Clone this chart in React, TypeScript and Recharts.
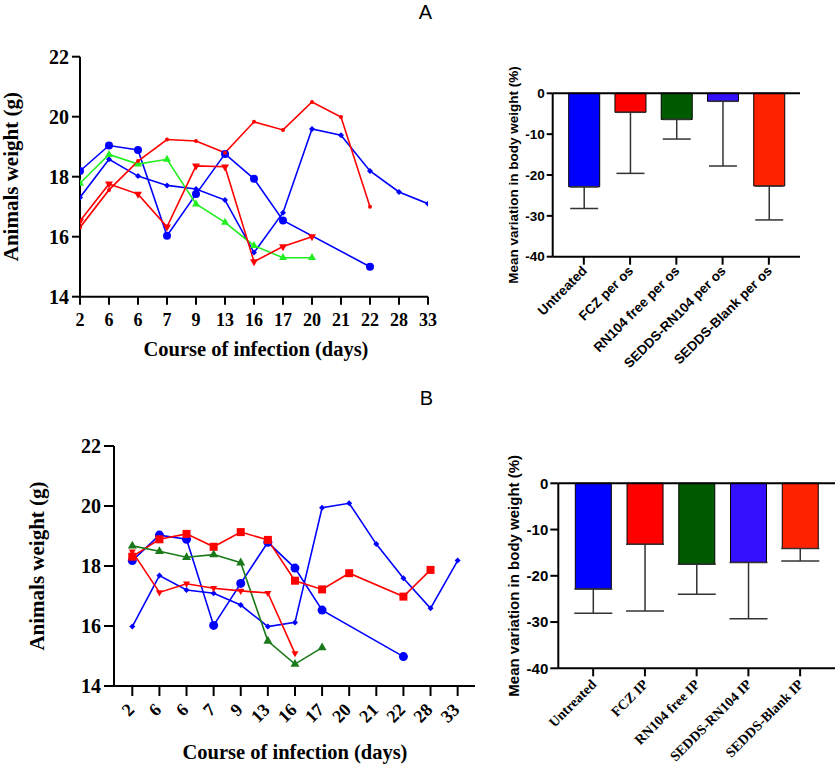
import React from 'react';
import { LineChart, Line, XAxis, YAxis, BarChart, Bar, Cell, ErrorBar, ReferenceLine } from 'recharts';

const SERIF = '"Liberation Serif", "Times New Roman", serif';
const SANS = '"Liberation Sans", Arial, sans-serif';

// ---- Line charts: x categories (days) ----
const days = ['2', '6', '6', '7', '9', '13', '16', '17', '20', '21', '22', '28', '33'];
const dayIdx = days.map((_, i) => i);

// Panel A (per os) weights
const aBlueCircle = [18.19, 19.04, 18.89, 16.03, 17.42, 18.76, 17.93, 16.54, null, null, 15.0, null, null];
const aBlueDiamond = [17.31, 18.58, 18.02, 17.71, 17.59, 17.22, 15.47, 16.8, 19.59, 19.38, 18.19, 17.49, 17.1];
const aGreen = [17.78, 18.74, 18.42, 18.58, 17.09, 16.48, 15.7, 15.3, 15.3, null, null, null, null];
const aRedDot = [16.31, 17.56, 18.52, 19.24, 19.19, 18.8, 19.83, 19.56, 20.49, 19.99, 17.0, null, null];
const aRedTri = [16.52, 17.76, 17.42, 16.33, 18.36, 18.33, 15.17, 15.67, 16.0, null, null, null, null];

// Panel B (IP) weights
const bBlueCircle = [18.18, 19.03, 18.89, 16.02, 17.42, 18.79, 17.93, 16.53, null, null, 14.98, null, null];
const bBlueDiamond = [15.98, 17.68, 17.2, 17.09, 16.7, 15.98, 16.12, 19.94, 20.09, 18.73, 17.59, 16.59, 18.18];
const bRedSquare = [18.31, 18.89, 19.07, 18.64, 19.13, 18.87, 17.51, 17.22, 17.76, null, 16.98, 17.87, null];
const bGreen = [18.67, 18.49, 18.29, 18.38, 18.11, 15.5, 14.73, 15.28, null, null, null, null, null];
const bRedTri = [18.48, 17.12, 17.41, 17.26, 17.17, 17.1, 15.09, null, null, null, null, null, null];

const weightTicks = [14, 16, 18, 20, 22];

// ---- Bar charts ----
const barCatsA = ['Untreated', 'FCZ per os', 'RN104 free per os', 'SEDDS-RN104 per os', 'SEDDS-Blank per os'];
const barMeanA = [-22.9, -4.65, -6.4, -1.96, -22.7];
const barLowA = [-28.2, -19.6, -11.2, -17.8, -31.0];

const barCatsB = ['Untreated', 'FCZ IP', 'RN104 free IP', 'SEDDS-RN104 IP', 'SEDDS-Blank IP'];
const barMeanB = [-22.86, -13.2, -17.5, -17.1, -14.1];
const barLowB = [-28.1, -27.6, -24.0, -29.3, -16.8];

const barColors = ['#0000FF', '#FF0000', '#005A00', '#3311FF', '#FF2200'];
const pctTicks = [-40, -30, -20, -10, 0];

type SeriesDef = { key: string; values: (number | null)[]; color: string; shape: string; size: number };

const seriesA: SeriesDef[] = [
  { key: 'aBlueCircle', values: aBlueCircle, color: '#0000FF', shape: 'circle', size: 4 },
  { key: 'aBlueDiamond', values: aBlueDiamond, color: '#0000FF', shape: 'diamond', size: 3 },
  { key: 'aGreen', values: aGreen, color: '#22EE22', shape: 'tri', size: 4 },
  { key: 'aRedDot', values: aRedDot, color: '#FF0000', shape: 'circle', size: 2 },
  { key: 'aRedTri', values: aRedTri, color: '#FF0000', shape: 'triDown', size: 4 },
];
const seriesB: SeriesDef[] = [
  { key: 'bBlueCircle', values: bBlueCircle, color: '#0000FF', shape: 'circle', size: 4.5 },
  { key: 'bBlueDiamond', values: bBlueDiamond, color: '#0000FF', shape: 'diamond', size: 3 },
  { key: 'bRedSquare', values: bRedSquare, color: '#FF0000', shape: 'square', size: 4 },
  { key: 'bGreen', values: bGreen, color: '#1A7A1A', shape: 'tri', size: 4.5 },
  { key: 'bRedTri', values: bRedTri, color: '#FF0000', shape: 'triDown', size: 3.5 },
];

function buildRows(series: SeriesDef[]) {
  return dayIdx.map((i) => {
    const row: any = { i };
    series.forEach((s) => { row[s.key] = s.values[i]; });
    return row;
  });
}
const lineDataA = buildRows(seriesA);
const lineDataB = buildRows(seriesB);

const barDataA = barCatsA.map((name, k) => ({ name, v: barMeanA[k], err: [barMeanA[k] - barLowA[k], 0] }));
const barDataB = barCatsB.map((name, k) => ({ name, v: barMeanB[k], err: [barMeanB[k] - barLowB[k], 0] }));

function makeDot(shape: string, s: number, color: string) {
  return (props: any) => {
    const { cx, cy, index, value } = props;
    const k = `dot-${index}`;
    if (cx == null || cy == null || value == null || Number.isNaN(cy)) return <g key={k} />;
    if (shape === 'circle') return <circle key={k} cx={cx} cy={cy} r={s} fill={color} />;
    if (shape === 'square') return <rect key={k} x={cx - s} y={cy - s} width={2 * s} height={2 * s} fill={color} />;
    if (shape === 'tri')
      return <polygon key={k} points={`${cx},${cy - s * 1.15} ${cx - s},${cy + s * 0.6} ${cx + s},${cy + s * 0.6}`} fill={color} />;
    if (shape === 'triDown')
      return <polygon key={k} points={`${cx},${cy + s * 1.15} ${cx - s},${cy - s * 0.6} ${cx + s},${cy - s * 0.6}`} fill={color} />;
    return <polygon key={k} points={`${cx},${cy - s} ${cx + s},${cy} ${cx},${cy + s} ${cx - s},${cy}`} fill={color} />;
  };
}

const axisStroke = { stroke: '#000', strokeWidth: 2 };

function makeRotTick(labels: string[] | null, font: string, size: number, dx: number, dy: number) {
  return (props: any) => {
    const { x, y, payload, index } = props;
    const txt = labels ? labels[payload.value] : payload.value;
    return (
      <g key={`t-${index}`} transform={`translate(${x + dx},${y + dy})`}>
        <text textAnchor="end" transform="rotate(-45)" fontFamily={font} fontSize={size} fontWeight="bold" fill="#000">
          {txt}
        </text>
      </g>
    );
  };
}

function fixedText(txt: string, x: number, y: number, font: string, size: number, rotate: boolean) {
  return () => (
    <text
      x={x}
      y={y}
      textAnchor="middle"
      fontFamily={font}
      fontSize={size}
      fontWeight="bold"
      fill="#000"
      transform={rotate ? `rotate(-90, ${x}, ${y})` : undefined}
    >
      {txt}
    </text>
  );
}

function LinePanel({ data, series, width, height, margin, yWidth, xHeight, tickLen, domain, xTick, xTitle, yTitle }: any) {
  return (
    <LineChart width={width} height={height} data={data} margin={margin}>
      <XAxis
        type="number"
        dataKey="i"
        domain={domain}
        ticks={dayIdx}
        interval={0}
        allowDataOverflow
        tickFormatter={(v: number) => days[v]}
        height={xHeight}
        tickSize={tickLen}
        tickMargin={9}
        axisLine={axisStroke}
        tickLine={axisStroke}
        tick={xTick}
        label={xTitle}
      />
      <YAxis
        type="number"
        domain={[14, 22]}
        ticks={weightTicks}
        interval={0}
        width={yWidth}
        tickSize={tickLen}
        tickMargin={3}
        axisLine={axisStroke}
        tickLine={axisStroke}
        tick={{ fontFamily: SERIF, fontSize: 20, fontWeight: 'bold', fill: '#000' }}
        label={yTitle}
      />
      {series.map((s: SeriesDef) => (
        <Line
          key={s.key}
          type="linear"
          dataKey={s.key}
          stroke={s.color}
          strokeWidth={1.6}
          connectNulls
          dot={makeDot(s.shape, s.size, s.color)}
          activeDot={false}
          isAnimationActive={false}
        />
      ))}
    </LineChart>
  );
}

function BarPanel({ data, width, height, margin, yWidth, xHeight, padding, barSize, capW, fontSize, xTick, yTitle, yTickLen }: any) {
  return (
    <BarChart width={width} height={height} data={data} margin={margin} barCategoryGap={0}>
      <XAxis
        dataKey="name"
        interval={0}
        height={xHeight}
        padding={padding}
        tickSize={8}
        axisLine={axisStroke}
        tickLine={axisStroke}
        tick={xTick}
        orientation="bottom"
      />
      <YAxis
        type="number"
        domain={[-40, 0]}
        ticks={pctTicks}
        interval={0}
        width={yWidth}
        tickSize={yTickLen}
        tickMargin={2}
        axisLine={axisStroke}
        tickLine={axisStroke}
        tick={{ fontFamily: SANS, fontSize, fontWeight: 'bold', fill: '#000' }}
        label={yTitle}
      />
      <ReferenceLine y={0} stroke="#000" strokeWidth={2} ifOverflow="extendDomain" />
      <Bar dataKey="v" barSize={barSize} stroke="#000" strokeWidth={1} isAnimationActive={false}>
        {data.map((d: any, k: number) => (
          <Cell key={d.name} fill={barColors[k]} />
        ))}
        <ErrorBar dataKey="err" width={capW} stroke="#333" strokeWidth={1.5} direction="y" isAnimationActive={false} />
      </Bar>
    </BarChart>
  );
}

export default function App() {
  return (
    <div style={{ position: 'absolute', left: 0, top: 0, width: 836, height: 765, background: '#fff', overflow: 'hidden' }}>
      <svg width={836} height={765} style={{ position: 'absolute', left: 0, top: 0 }}>
        <text x={425.5} y={19} textAnchor="middle" fontFamily={SANS} fontSize={20} fill="#000">A</text>
        <text x={426.5} y={405} textAnchor="middle" fontFamily={SANS} fontSize={20} fill="#000">B</text>
      </svg>

      <div style={{ position: 'absolute', left: 0, top: 0 }}>
        <LinePanel
          data={lineDataA}
          series={seriesA}
          width={440}
          height={370}
          margin={{ top: 56.7, right: 12, bottom: 13.3, left: 0 }}
          yWidth={80}
          xHeight={60}
          tickLen={8}
          domain={[0, 12]}
          xTick={{ fontFamily: SERIF, fontSize: 18, fontWeight: 'bold', fill: '#000' }}
          xTitle={fixedText('Course of infection (days)', 256, 356, SERIF, 20.5, false)}
          yTitle={fixedText('Animals weight (g)', 18.5, 176.7, SERIF, 21, true)}
        />
      </div>

      <div style={{ position: 'absolute', left: 440, top: 40 }}>
        <BarPanel
          data={barDataA}
          width={396}
          height={340}
          margin={{ top: 53.3, right: 36, bottom: 40, left: 0 }}
          yWidth={112.7}
          xHeight={83.3}
          padding={{ left: 8, right: 8 }}
          barSize={31}
          capW={14}
          fontSize={13.5}
          yTickLen={6}
          xTick={makeRotTick(null, SANS, 13.5, 4, 5)}
          yTitle={fixedText('Mean variation in body weight (%)', 78, 135, SANS, 13.5, true)}
        />
      </div>

      <div style={{ position: 'absolute', left: 0, top: 400 }}>
        <LinePanel
          data={lineDataB}
          series={seriesB}
          width={480}
          height={365}
          margin={{ top: 46, right: 5, bottom: 0, left: 0 }}
          yWidth={114}
          xHeight={79}
          tickLen={10}
          domain={[-0.675, 12.64]}
          xTick={makeRotTick(days, SERIF, 18, 3, 6)}
          xTitle={fixedText('Course of infection (days)', 295, 358.5, SERIF, 20.5, false)}
          yTitle={fixedText('Animals weight (g)', 44, 166, SERIF, 21, true)}
        />
      </div>

      <div style={{ position: 'absolute', left: 440, top: 440 }}>
        <BarPanel
          data={barDataB}
          width={396}
          height={325}
          margin={{ top: 43.3, right: 1, bottom: 0, left: 0 }}
          yWidth={118.3}
          xHeight={96.7}
          padding={{ left: 9, right: 9 }}
          barSize={36}
          capW={19}
          fontSize={15}
          yTickLen={8}
          xTick={makeRotTick(null, SERIF, 14, 4, 7)}
          yTitle={fixedText('Mean variation in body weight (%)', 79, 135.8, SANS, 15, true)}
        />
      </div>
    </div>
  );
}
